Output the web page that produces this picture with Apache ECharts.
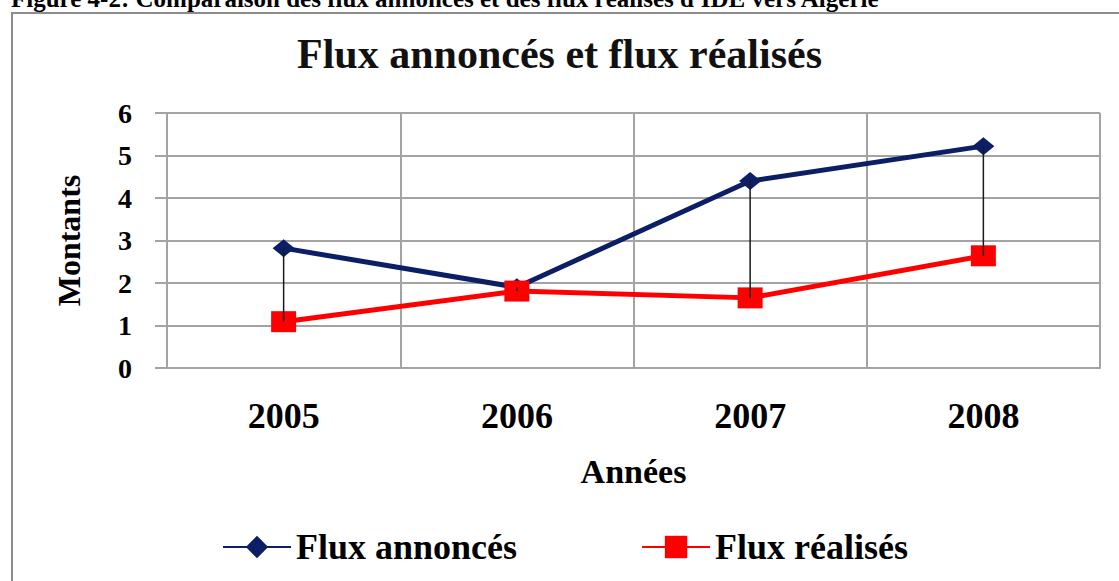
<!DOCTYPE html>
<html>
<head>
<meta charset="utf-8">
<script src="https://cdn.jsdelivr.net/npm/echarts@6/dist/echarts.min.js"></script>
<style>
html,body{margin:0;padding:0;background:#fff;}
#chart{width:1119px;height:581px;}
</style>
</head>
<body>
<div id="chart"></div>
<script>
const categories = ['2005', '2006', '2007', '2008'];
const fluxAnnonces = [2.82, 1.9, 4.4, 5.22];
const fluxRealises = [1.09, 1.81, 1.65, 2.64];
const yTicks = [0, 1, 2, 3, 4, 5, 6];
const captionText = "Figure 4-2: Comparaison des flux annoncés et des flux réalisés d'IDE vers Algérie";
const titleText = 'Flux annoncés et flux réalisés';
const seriesNames = ['Flux annoncés', 'Flux réalisés'];
const xName = 'Années';
const yName = 'Montants';

const FONT = '"Liberation Serif", "Times New Roman", serif';
const NAVY = '#0c1f66';
const RED = '#ff0000';
const GRID = '#a3a3a3';

const hiLo = categories.map((c, i) => [i, fluxAnnonces[i], fluxRealises[i]]);

const chart = echarts.init(document.getElementById('chart'), null, { renderer: 'svg' });
chart.setOption({
  animation: false,
  backgroundColor: '#ffffff',
  title: {
    text: titleText,
    left: 'center',
    top: 33,
    padding: 0,
    textStyle: { fontFamily: FONT, fontWeight: 'bold', fontSize: 42, color: '#111' }
  },
  graphic: [
    {
      type: 'rect',
      shape: { x: 12, y: 13, width: 1300, height: 800 },
      style: { fill: 'none', stroke: '#8c8c8c', lineWidth: 2 },
      z: 0
    },
    {
      type: 'text',
      x: 11,
      y: -2,
      style: {
        text: captionText,
        font: 'bold 25px ' + FONT,
        fill: '#000',
        verticalAlign: 'middle',
        align: 'left'
      }
    }
  ],
  legend: {
    data: seriesNames,
    left: 222,
    top: 529,
    padding: 0,
    itemWidth: 68,
    itemHeight: 28,
    itemGap: 124,
    textStyle: { fontFamily: FONT, fontWeight: 'bold', fontSize: 36, color: '#000' }
  },
  grid: { left: 167, right: 19, top: 113, bottom: 213, containLabel: false },
  xAxis: {
    type: 'category',
    data: categories,
    boundaryGap: true,
    name: xName,
    nameLocation: 'middle',
    nameGap: 86,
    nameTextStyle: { fontFamily: FONT, fontWeight: 'bold', fontSize: 34, color: '#000' },
    axisLine: { show: true, lineStyle: { color: GRID, width: 2 } },
    axisTick: { show: false },
    axisLabel: { margin: 30, fontFamily: FONT, fontWeight: 'bold', fontSize: 36, color: '#000' },
    splitLine: { show: true, lineStyle: { color: GRID, width: 2 } }
  },
  yAxis: {
    type: 'value',
    min: yTicks[0],
    max: yTicks[yTicks.length - 1],
    interval: 1,
    name: yName,
    nameLocation: 'middle',
    nameRotate: 90,
    nameGap: 82,
    nameTextStyle: { fontFamily: FONT, fontWeight: 'bold', fontSize: 32, color: '#000' },
    axisLine: { show: true, lineStyle: { color: GRID, width: 2 } },
    axisTick: { show: true, inside: false, length: 12, lineStyle: { color: GRID, width: 2 } },
    axisLabel: { margin: 35, fontFamily: FONT, fontWeight: 'bold', fontSize: 28, color: '#000' },
    splitLine: { show: true, lineStyle: { color: GRID, width: 2 } }
  },
  series: [
    {
      name: seriesNames[0],
      type: 'line',
      data: fluxAnnonces,
      symbol: 'diamond',
      symbolSize: [22, 18],
      lineStyle: { color: NAVY, width: 5 },
      itemStyle: { color: NAVY },
      z: 3
    },
    {
      name: seriesNames[1],
      type: 'line',
      data: fluxRealises,
      symbol: 'rect',
      symbolSize: [25, 21],
      lineStyle: { color: RED, width: 5 },
      itemStyle: { color: RED },
      z: 4
    },
    {
      name: 'hilo',
      type: 'custom',
      data: hiLo,
      z: 6,
      silent: true,
      renderItem: function (params, api) {
        const p1 = api.coord([api.value(0), api.value(1)]);
        const p2 = api.coord([api.value(0), api.value(2)]);
        return {
          type: 'line',
          shape: { x1: p1[0], y1: p1[1], x2: p2[0], y2: p2[1] },
          style: { stroke: '#1a1a1a', lineWidth: 1.5 }
        };
      }
    }
  ]
});
</script>
</body>
</html>
